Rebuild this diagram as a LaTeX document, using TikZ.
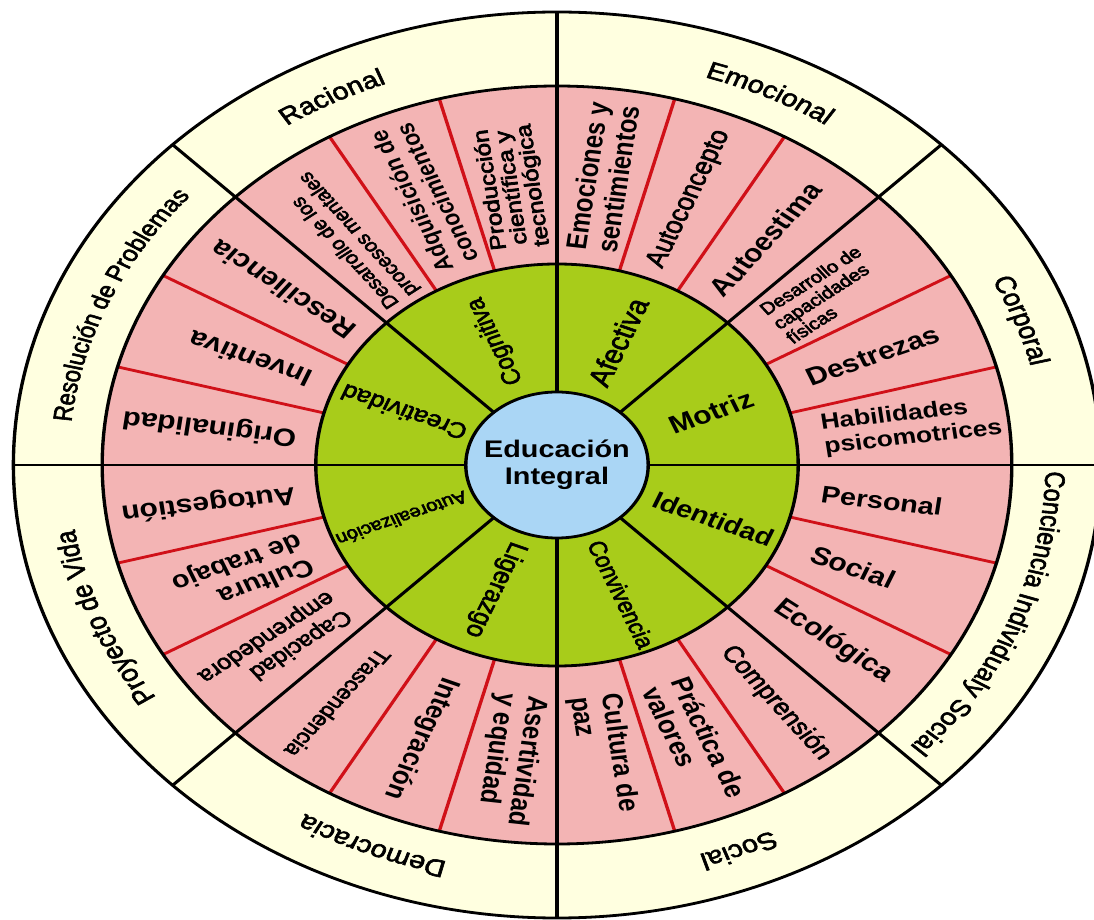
\documentclass[tikz,border=0pt]{standalone}
\usepackage{fontspec}
\setmainfont{Liberation Sans}
\newcommand\medf{\special{pdf:literal direct 2 Tr 0.55 w}}
\usepackage{graphicx}
\usetikzlibrary{decorations.text}
\definecolor{creamc}{RGB}{255,255,224}
\definecolor{pinkc}{RGB}{243,180,180}
\definecolor{greenc}{RGB}{168,204,26}
\definecolor{bluec}{RGB}{170,214,245}
\definecolor{redc}{RGB}{208,16,24}
\newcommand\creamlabel[3]{%
  \path[decoration={text along path, text align=center,
        text={|\fontsize{#2}{#2}\selectfont\medf|#3}}, decorate]
    ({#1+35}:407pt) arc[start angle={#1+35}, end angle={#1-35}, radius=407pt];}
\begin{document}
\begin{tikzpicture}[x=1pt,y=1pt,
  blk/.style={draw=black, line width=2.8pt},
  redline/.style={draw=redc, line width=2.8pt},
  lbl/.style={inner sep=0pt, text=black}]
\fill[white, use as bounding box] (-557,-455) rectangle (537,465);
\begin{scope}[transform canvas={xscale=1.2}]
  % rings
  \fill[creamc] (0,0) circle (453pt);
  \fill[pinkc] (0,0) circle (379pt);
  \foreach \a in {15,30,60,75,105,120,150,165,195,210,240,255,285,300,330,345}
    \draw[redline] (\a:201pt) -- (\a:379pt);
  \fill[greenc] (0,0) circle (201pt);
  \foreach \a in {0,45,...,315}
    \draw[blk] (0,0) -- (\a:453pt);
  \draw[blk] (0,0) circle (453pt);
  \draw[blk] (0,0) circle (379pt);
  \draw[blk] (0,0) circle (201pt);
  \filldraw[fill=bluec, blk] (0,0) ellipse (76pt and 73pt);
  % centre
  \node[lbl, align=center, font=\bfseries\fontsize{24}{27}\selectfont] (centre) at (0,0) {Educación\\Integral};
  % green ring
  \node[lbl, rotate=112.5, font=\fontsize{22}{24}\selectfont] (g1) at (112.5:134pt) {\medf Cognitiva};
  \node[lbl, rotate=67.5, font=\fontsize{26}{28}\selectfont] (g2) at (67.5:133pt) {\medf Afectiva};
  \node[lbl, rotate=22.5, font=\bfseries\fontsize{25}{27}\selectfont] (g3) at (22.5:139pt) {Motriz};
  \node[lbl, rotate=-22.5, font=\bfseries\fontsize{24}{26}\selectfont] (g4) at (-22.5:141pt) {Identidad};
  \node[lbl, rotate=-67.5, font=\fontsize{21}{23}\selectfont] (g5) at (-67.5:140pt) {\medf Convivencia};
  \node[lbl, rotate=-112.5, font=\fontsize{23}{25}\selectfont] (g6) at (-112.5:135pt) {\medf Ligerazgo};
  \node[lbl, rotate=-157.5, font=\fontsize{17}{19}\selectfont] (g7) at (-157.5:140pt) {\medf Autorealización};
  \node[lbl, rotate=157.5, font=\fontsize{22}{24}\selectfont] (g8) at (157.5:138pt) {\medf Creatividad};
  % pink ring
  \node[lbl, rotate=97.5] (p1) at (97.5:280pt) {\fontsize{18}{16}\selectfont\scalebox{1.35}[1]{\medf\begin{tabular}{@{}c@{}}Producción\\científica y\\tecnológica\end{tabular}}};
  \node[lbl, rotate=112.5, align=center, font=\bfseries\fontsize{21}{23}\selectfont] (p2) at (112.5:290pt) {Adquisición de\\conocimientos};
  \node[lbl, rotate=127.5, align=left, font=\fontsize{18}{20}\selectfont] (p3) at (127.5:284pt) {\medf Desarrollo de los\\\medf procesos mentales};
  \node[lbl, rotate=82.5, align=center, font=\bfseries\fontsize{24}{26}\selectfont] (p4) at (82.5:290pt) {Emociones y\\sentimientos};
  \node[lbl, rotate=67.5, font=\fontsize{24}{26}\selectfont] (p5) at (67.5:288pt) {\medf Autoconcepto};
  \node[lbl, rotate=52.5, font=\bfseries\fontsize{25}{27}\selectfont] (p6) at (52.5:285pt) {Autoestima};
  \node[lbl, rotate=37.5, align=left, font=\fontsize{17}{18}\selectfont] (p7) at (37.5:280pt) {\medf Desarrollo de\\\medf capacidades\\\medf físicas};
  \node[lbl, rotate=22.5, font=\bfseries\fontsize{25}{27}\selectfont] (p8) at (22.5:285pt) {Destrezas};
  \node[lbl, rotate=7.5, align=left, font=\bfseries\fontsize{22}{24}\selectfont] (p9) at (7.5:298pt) {Habilidades\\psicomotrices};
  \node[lbl, rotate=-7.5, font=\bfseries\fontsize{24}{26}\selectfont] (p10) at (-7.5:273pt) {Personal};
  \node[lbl, rotate=-22.5, font=\bfseries\fontsize{25}{27}\selectfont] (p11) at (-22.5:267pt) {Social};
  \node[lbl, rotate=-37.5, font=\bfseries\fontsize{25}{27}\selectfont] (p12) at (-37.5:290pt) {Ecológica};
  \node[lbl, rotate=-52.5, font=\fontsize{23}{25}\selectfont] (p13) at (-52.5:300pt) {\medf Comprensión};
  \node[lbl, rotate=-67.5, align=left, font=\bfseries\fontsize{24}{26}\selectfont] (p14) at (-67.5:300pt) {Práctica de\\valores};
  \node[lbl, rotate=-82.5, align=left, font=\bfseries\fontsize{24}{26}\selectfont] (p15) at (-82.5:292pt) {Cultura de\\paz};
  \node[lbl, rotate=-97.5, align=left, font=\bfseries\fontsize{24}{26}\selectfont] (p16) at (-97.5:297pt) {Asertividad\\y equidad};
  \node[lbl, rotate=-112.5, font=\bfseries\fontsize{24}{26}\selectfont] (p17) at (-112.5:296pt) {Integración};
  \node[lbl, rotate=-127.5, font=\fontsize{20}{22}\selectfont] (p18) at (-127.5:300pt) {\medf Trascendencia};
  \node[lbl, rotate=-142.5, align=left, font=\fontsize{21}{23}\selectfont] (p19) at (-142.5:297pt) {\medf Capacidad\\\medf emprendedora};
  \node[lbl, rotate=-157.5, align=left, font=\bfseries\fontsize{24}{26}\selectfont] (p20) at (-157.5:284pt) {Cultura\\de trabajo};
  \node[lbl, rotate=-172.5, font=\bfseries\fontsize{25}{27}\selectfont] (p21) at (-172.5:293pt) {Autogestión};
  \node[lbl, rotate=172.5, font=\bfseries\fontsize{25}{27}\selectfont] (p22) at (172.5:292pt) {Originalidad};
  \node[lbl, rotate=157.5, font=\bfseries\fontsize{25}{27}\selectfont] (p23) at (157.5:277pt) {Inventiva};
  \node[lbl, rotate=142.5, font=\bfseries\fontsize{25}{27}\selectfont] (p24) at (142.5:288pt) {Resciliencia};
  % cream ring
  \creamlabel{117}{24}{Racional}
  \creamlabel{64.5}{24}{Emocional}
  \creamlabel{20.5}{24}{Corporal}
  \creamlabel{-22.3}{23.5}{Conciencia Individualy Social}
  \creamlabel{-68.5}{24}{Social}
  \creamlabel{-112}{24}{Democracia}
  \creamlabel{-158}{24}{Proyecto de Vida}
  \creamlabel{156.3}{22}{Resolución de Problemas}
\end{scope}
\end{tikzpicture}
\end{document}
